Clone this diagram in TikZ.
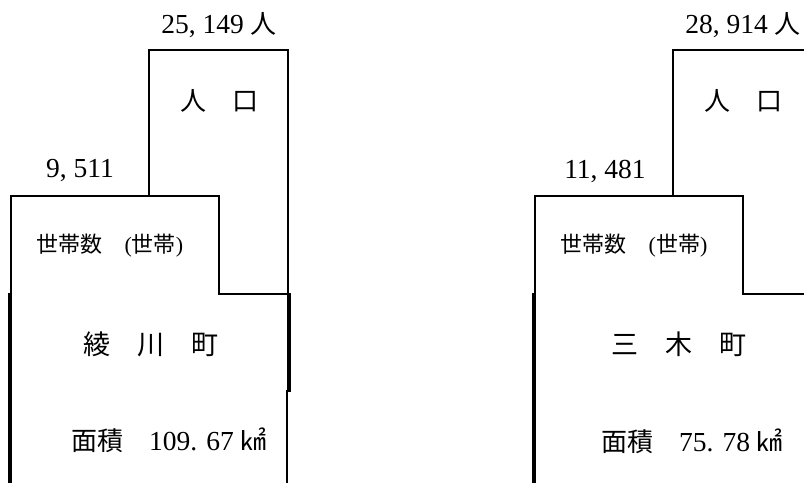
\documentclass[tikz,border=0pt]{standalone}
\usepackage{fontspec}
\setmainfont{Liberation Serif}
\newfontfamily\cjk{Noto Sans CJK JP}

\begin{document}
\begin{tikzpicture}[x=1pt, y=-1pt, line width=2.6pt]
		\tikzstyle{every node}=[inner sep=0pt, align=center]
		\tikzstyle{num}=[font=\fontsize{27.5}{30}\selectfont]
		\tikzstyle{big}=[font=\fontsize{27}{30}\cjk]
		\tikzstyle{small}=[font=\fontsize{22}{26}\selectfont]
		\tikzstyle{heavy}=[line width=3.8pt]
			\useasboundingbox (0,0) rectangle (804,483);
			\clip (0,0) rectangle (804,483);

			% Ayagawa
			\draw (149,196) -- (149,50) -- (288,50) -- (288,392);
			\draw (11,483) -- (11,196) -- (219,196) -- (219,294) -- (288,294);
			\draw[heavy] (10,293) -- (10,483);
			\draw[heavy] (289,293) -- (289,392);
			\draw (287,390) -- (287,483);

			\node[num] (popA) at (219,25) {25, 149 {\cjk\fontsize{26}{30}\selectfont 人}};
			\node[num] (hhA) at (80,171) {9, 511};
			\node[big, font=\fontsize{26}{30}\cjk] (popLabelA) at (219,101) {人　口};
			\node[small] (hhLabelA) at (110,246) {{\cjk 世帯数　}({\cjk 世帯})};
			\node[big] (townA) at (151,344) {綾　川　町};
			\node[num] (areaA) at (169,440) {{\cjk\fontsize{26}{30}\selectfont 面積　}109. 67 {\cjk\fontsize{26}{30}\selectfont ㎢}};

			% Miki
			\draw (673,196) -- (673,50) -- (820,50);
			\draw (535,483) -- (535,196) -- (743,196) -- (743,294) -- (820,294);
			\draw[heavy] (534,293) -- (534,483);

			\node[num] (popB) at (743,25) {28, 914 {\cjk\fontsize{26}{30}\selectfont 人}};
			\node[num] (hhB) at (605,171) {11, 481};
			\node[big, font=\fontsize{26}{30}\cjk] (popLabelB) at (743,101) {人　口};
			\node[small] (hhLabelB) at (634,246) {{\cjk 世帯数　}({\cjk 世帯})};
			\node[big] (townB) at (679,344) {三　木　町};
			\node[num] (areaB) at (692,441) {{\cjk\fontsize{26}{30}\selectfont 面積　}75. 78 {\cjk\fontsize{26}{30}\selectfont ㎢}};
		\end{tikzpicture}
\end{document}
